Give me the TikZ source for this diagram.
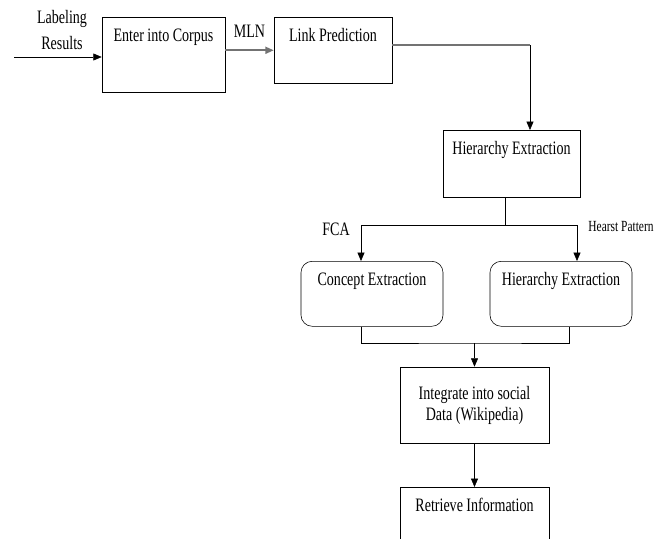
\documentclass[tikz,border=0pt]{standalone}
\usepackage{fontspec}
\setmainfont{Liberation Serif}[FakeStretch=0.74]
\usetikzlibrary{arrows.meta}

\begin{document}
\begin{tikzpicture}[x=0.025cm, y=-0.025cm, font=\fontsize{13.5}{16}\selectfont,
    stepbox/.style={draw, rectangle, anchor=north, inner ysep=0pt, text height=0.6cm, align=center},
    roundbox/.style={stepbox, rounded corners=8pt},
    arr/.style={-{Triangle[length=6pt,width=5pt]}},
    grayline/.style={draw=black!55, line width=1.3pt}]
            \useasboundingbox (0,0) rectangle (672,539);
            \clip (0,0) rectangle (672,539);
            \node[stepbox, minimum width=3.075cm, text depth=1.275cm] (corpus) at (163.5,17) {Enter into Corpus};
            \node[stepbox, minimum width=2.95cm, text depth=1.05cm] (link) at (333,17) {Link Prediction};
            \node[stepbox, minimum width=3.425cm, text depth=1.075cm] (hier) at (511.5,130) {Hierarchy Extraction};
            \node[roundbox, minimum width=3.55cm, text depth=1.025cm] (concept) at (372,261) {Concept Extraction};
            \node[roundbox, minimum width=3.55cm, text depth=1.025cm] (hierb) at (561,261) {Hierarchy Extraction};
            \node[draw, rectangle, align=center, minimum width=3.725cm, minimum height=1.9cm] (social) at (474.5,405) {Integrate into social\\[-1pt]Data (Wikipedia)};
            \node[stepbox, minimum width=3.725cm, text depth=1.225cm] (retrieve) at (474.5,487) {Retrieve Information};

            % labels
            \node[align=center] (labres) at (62,30) {Labeling\\[2pt]Results};
            \node (fca) at (336,229) {FCA};
            \node[font=\fontsize{11}{13}\selectfont] (hearst) at (621,227) {Hearst Pattern};

            \coordinate (start) at (14,57);
            \coordinate (turn) at (530,45);
            \coordinate (split) at (505,225);
            \coordinate (join) at (474.5,343);

            \draw[arr] (start) -- (start -| corpus.west);
            \draw[arr, grayline] (corpus.east |- link.west) -- node[above=5pt, black] (mln) {MLN} (link.west);
            \draw[grayline] (link.east |- turn) -- (turn);
            \draw[arr] (turn) -- (turn |- hier.north);
            \draw (split |- hier.south) -- (split);
            \draw[arr] (split) -| ([xshift=-0.275cm]concept.north);
            \draw[arr] (split) -| ([xshift=0.4cm]hierb.north);
            \draw ([xshift=-0.275cm]concept.south) |- (join) -| ([xshift=0.2cm]hierb.south);
            \draw[arr] (join) -- (social.north);
            \draw[arr] (social.south) -- (retrieve.north);
        \end{tikzpicture}
\end{document}
